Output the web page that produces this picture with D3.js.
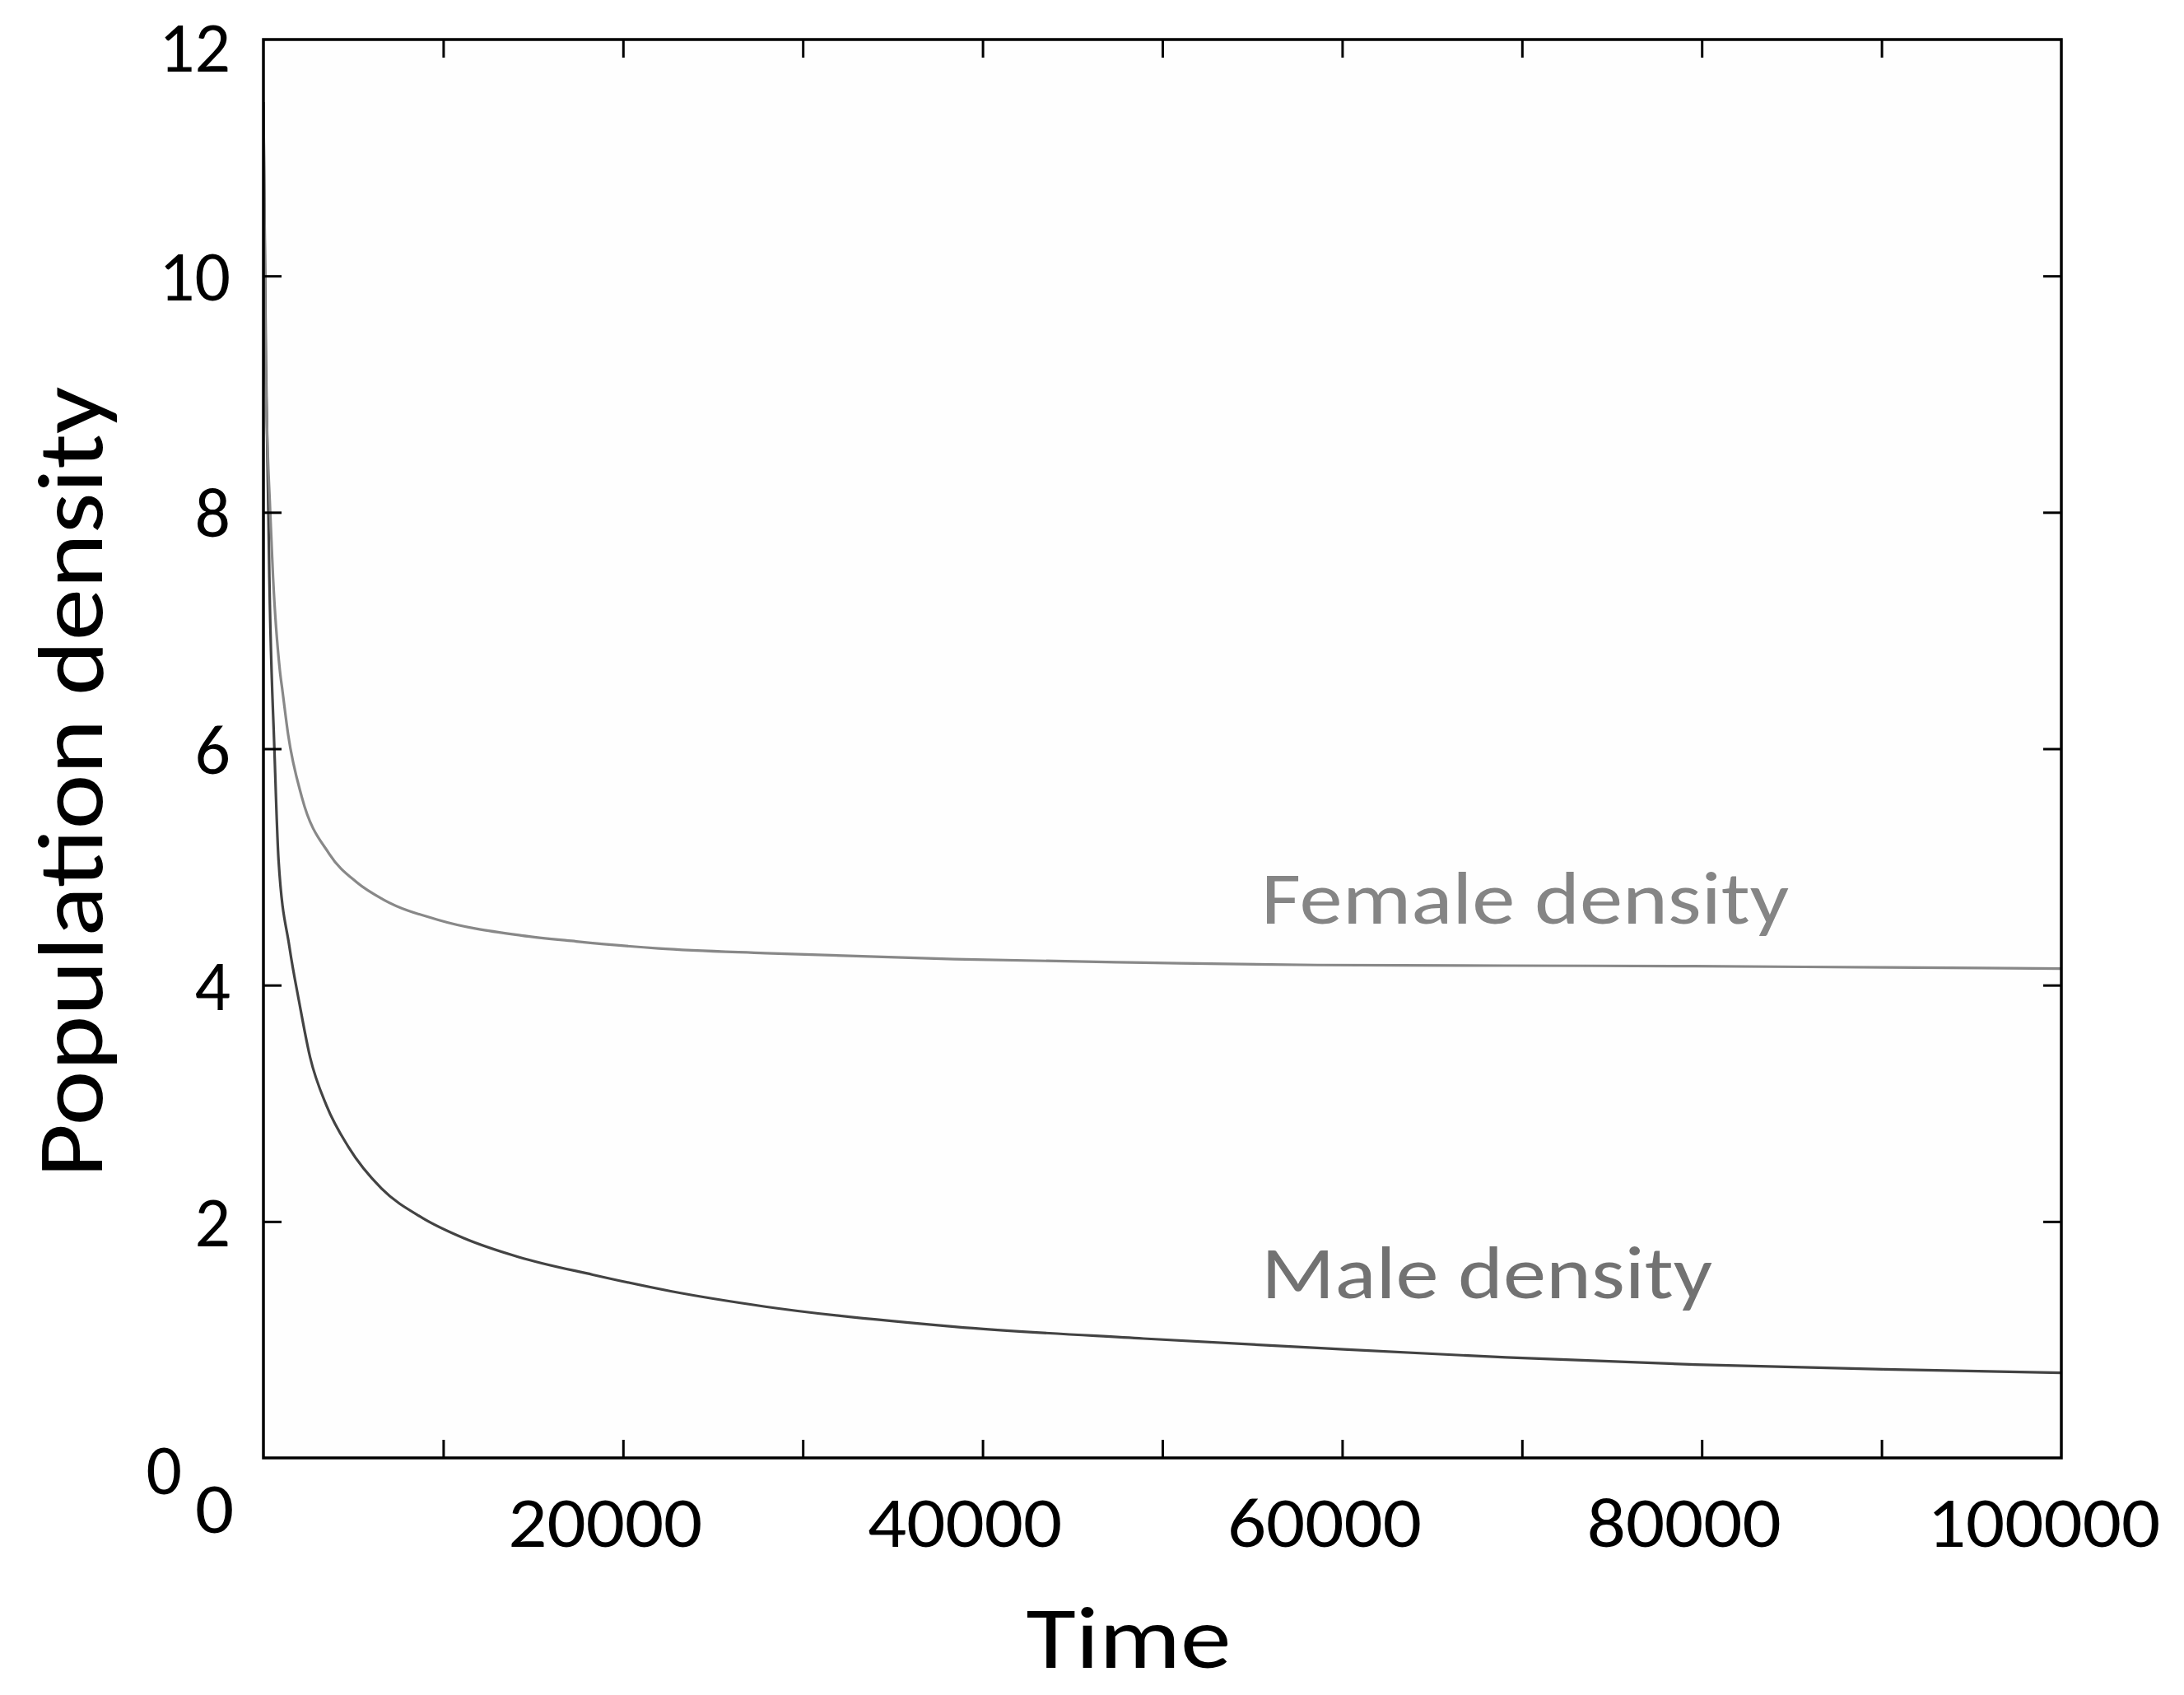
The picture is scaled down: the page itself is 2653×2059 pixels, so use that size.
<!DOCTYPE html>
<html>
<head>
<meta charset="utf-8">
<script src="https://cdn.jsdelivr.net/npm/d3@7"></script>
<style>
  html, body { margin: 0; padding: 0; background: #ffffff; }
  svg { display: block; }
  text { font-family: Carlito, Calibri, Lato, "Open Sans", sans-serif; }
</style>
</head>
<body>
<svg id="chart" width="2653" height="2059"></svg>
<script>
// ---- data ----
const femaleTime = [0, 124, 380, 535, 916, 1067, 1374, 2137, 3663, 5189, 6716, 9768, 14347, 17400, 21980, 27914, 38432, 48945, 58608, 69127, 79630, 90152, 100000];
const femaleDensity = [11.47, 9.26, 7.99, 7.45, 6.66, 6.48, 6.12, 5.59, 5.11, 4.87, 4.72, 4.55, 4.42, 4.37, 4.31, 4.27, 4.22, 4.19, 4.17, 4.165, 4.16, 4.15, 4.14];

const maleTime = [0, 140, 275, 330, 611, 840, 1450, 1984, 2595, 3511, 4731, 6563, 8852, 11142, 14195, 18316, 22656, 27914, 38432, 48945, 58608, 69127, 79630, 90152, 100000];
const maleDensity = [11.47, 9.26, 7.99, 7.45, 5.99, 5.06, 4.32, 3.86, 3.39, 2.98, 2.63, 2.28, 2.03, 1.86, 1.70, 1.55, 1.41, 1.28, 1.11, 1.01, 0.93, 0.85, 0.79, 0.75, 0.72];

const xTickLabels = [0, 20000, 40000, 60000, 80000, 100000];
const xMinorTicks = [10000, 20000, 30000, 40000, 50000, 60000, 70000, 80000, 90000];
const yTickLabels = [0, 2, 4, 6, 8, 10, 12];
const yMinorTicks = [2, 4, 6, 8, 10];

const seriesNames = ["Female density", "Male density"];
const xTitle = "Time";
const yTitle = "Population density";

// ---- layout ----
const svg = d3.select("#chart");
const L = 320, R = 2504, T = 48, B = 1771;

const x = d3.scaleLinear().domain([0, 100000]).range([L, R]);
const y = d3.scaleLinear().domain([0, 12]).range([B, T]);

// plot background
svg.append("rect")
  .attr("x", L).attr("y", T).attr("width", R - L).attr("height", B - T)
  .attr("fill", "#fefefe");

// clip
svg.append("defs").append("clipPath").attr("id", "clip")
  .append("rect").attr("x", L).attr("y", T).attr("width", R - L).attr("height", B - T);

// curves
const line = d3.line()
  .x(d => x(d[0]))
  .y(d => y(d[1]))
  .curve(d3.curveMonotoneX);

const femalePts = femaleTime.map((t, i) => [t, femaleDensity[i]]);
const malePts = maleTime.map((t, i) => [t, maleDensity[i]]);

const g = svg.append("g").attr("clip-path", "url(#clip)");
g.append("path").datum(malePts)
  .attr("d", line).attr("fill", "none")
  .attr("stroke", "#434343").attr("stroke-width", 3.2);
g.append("path").datum(femalePts)
  .attr("d", line).attr("fill", "none")
  .attr("stroke", "#888888").attr("stroke-width", 3.2);

// inward tick marks on all four sides
function styleTicks(sel) {
  sel.select(".domain").remove();
  sel.selectAll(".tick line").attr("stroke", "#000").attr("stroke-width", 3);
  sel.selectAll("text").remove();
}
svg.append("g").attr("transform", `translate(0,${B})`)
  .call(d3.axisBottom(x).tickValues(xMinorTicks).tickSize(-22))
  .call(styleTicks);
svg.append("g").attr("transform", `translate(0,${T})`)
  .call(d3.axisTop(x).tickValues(xMinorTicks).tickSize(-22))
  .call(styleTicks);
svg.append("g").attr("transform", `translate(${L},0)`)
  .call(d3.axisLeft(y).tickValues(yMinorTicks).tickSize(-22))
  .call(styleTicks);
svg.append("g").attr("transform", `translate(${R},0)`)
  .call(d3.axisRight(y).tickValues(yMinorTicks).tickSize(-22))
  .call(styleTicks);

// frame
svg.append("rect")
  .attr("x", L).attr("y", T).attr("width", R - L).attr("height", B - T)
  .attr("fill", "none").attr("stroke", "#000").attr("stroke-width", 3.5);

// tick labels
const digitW = 47.2;
const xLab = svg.append("g").attr("transform", `translate(0,${B})`)
  .call(d3.axisBottom(x).tickValues(xTickLabels).tickSize(0).tickPadding(46).tickFormat(d3.format("d")));
xLab.select(".domain").remove();
xLab.selectAll("text")
  .attr("font-size", 87).attr("fill", "#000")
  .attr("font-family", "Carlito, Calibri, Lato, sans-serif")
  .attr("dx", d => d === 0 ? -60 : -22)
  .attr("y", d => d === 0 ? 29 : 46)
  .attr("textLength", d => String(d).length * digitW)
  .attr("lengthAdjust", "spacingAndGlyphs");

const yLab = svg.append("g").attr("transform", `translate(${L},0)`)
  .call(d3.axisLeft(y).tickValues(yTickLabels).tickSize(0).tickPadding(40).tickFormat(d3.format("d")));
yLab.select(".domain").remove();
yLab.selectAll("text")
  .attr("font-size", 87).attr("fill", "#000")
  .attr("font-family", "Carlito, Calibri, Lato, sans-serif")
  .attr("x", d => d === 0 ? -99 : -40)
  .attr("dy", d => d === 12 ? "0.44em" : (d === 0 ? "0.5em" : "0.34em"))
  .attr("textLength", d => String(d).length * 43.5)
  .attr("lengthAdjust", "spacingAndGlyphs");

// series labels
svg.append("text")
  .attr("x", x(55500)).attr("y", y(4.52))
  .attr("font-size", 91).attr("fill", "#858585")
  .attr("textLength", 641).attr("lengthAdjust", "spacingAndGlyphs")
  .text(seriesNames[0]);
svg.append("text")
  .attr("x", x(55500)).attr("y", y(1.35))
  .attr("font-size", 91).attr("fill", "#727272")
  .attr("textLength", 548).attr("lengthAdjust", "spacingAndGlyphs")
  .text(seriesNames[1]);

// axis titles
svg.append("text")
  .attr("x", 1371).attr("y", 2026)
  .attr("text-anchor", "middle")
  .attr("font-size", 108).attr("fill", "#000")
  .attr("textLength", 249).attr("lengthAdjust", "spacingAndGlyphs")
  .text(xTitle);
svg.append("text")
  .attr("transform", "translate(124,950) rotate(-90)")
  .attr("text-anchor", "middle")
  .attr("font-size", 113).attr("fill", "#000")
  .attr("textLength", 961).attr("lengthAdjust", "spacingAndGlyphs")
  .text(yTitle);
</script>
</body>
</html>
